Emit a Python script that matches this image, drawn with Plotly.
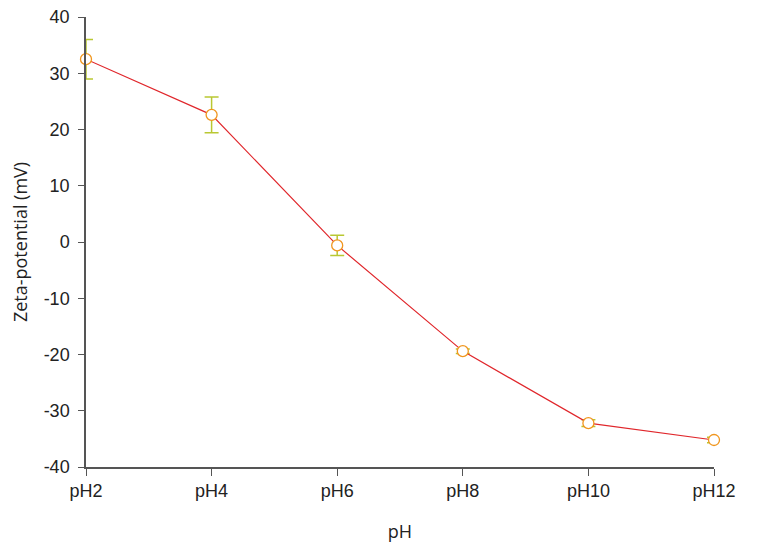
import plotly.graph_objects as go

categories = ["pH2", "pH4", "pH6", "pH8", "pH10", "pH12"]
zeta = [32.5, 22.6, -0.6, -19.4, -32.2, -35.2]
zeta_err = [3.5, 3.2, 1.8, 0.4, 0.6, 0.5]
y_ticks = [-40, -30, -20, -10, 0, 10, 20, 30, 40]
y_tick_text = [str(v) for v in y_ticks]

fig = go.Figure()
fig.add_trace(go.Scatter(
    x=categories, y=zeta,
    mode="lines+markers",
    line=dict(color="#E0262B", width=1.2),
    marker=dict(symbol="circle", size=11, color="white",
                line=dict(color="#F0961E", width=1.3)),
    error_y=dict(type="data", array=zeta_err, visible=True,
                 color="#B9C832", thickness=1.5, width=7),
    cliponaxis=False,
    showlegend=False,
))

axis_font = dict(family="Liberation Sans, Arial, sans-serif", size=18, color="#222")
title_font = dict(family="Open Sans, Noto Sans, sans-serif", size=18, color="#222")
fig.update_layout(
    width=760, height=539,
    margin=dict(l=78, r=54, t=9, b=80, autoexpand=False),
    paper_bgcolor="white", plot_bgcolor="white",
    xaxis=dict(
        type="category", range=[0, 5], automargin=False,
        showline=True, linecolor="#555", linewidth=1.5,
        ticks="outside", ticklen=7, tickcolor="#555", tickwidth=1.2,
        ticklabeloverflow="allow",
        showgrid=False, zeroline=False,
        tickfont=axis_font,
        title=dict(text="pH", font=title_font, standoff=25),
    ),
    yaxis=dict(
        range=[-40, 40], tickvals=y_ticks, ticktext=y_tick_text, automargin=False,
        showline=True, linecolor="#555", linewidth=1.5,
        ticks="outside", ticklen=6, tickcolor="#555", tickwidth=1.2,
        ticklabelstandoff=5, ticklabeloverflow="allow",
        showgrid=False, zeroline=False,
        tickfont=axis_font,
        title=dict(text="Zeta-potential (mV)", font=title_font, standoff=29),
    ),
)

fig.write_html("out.html")
